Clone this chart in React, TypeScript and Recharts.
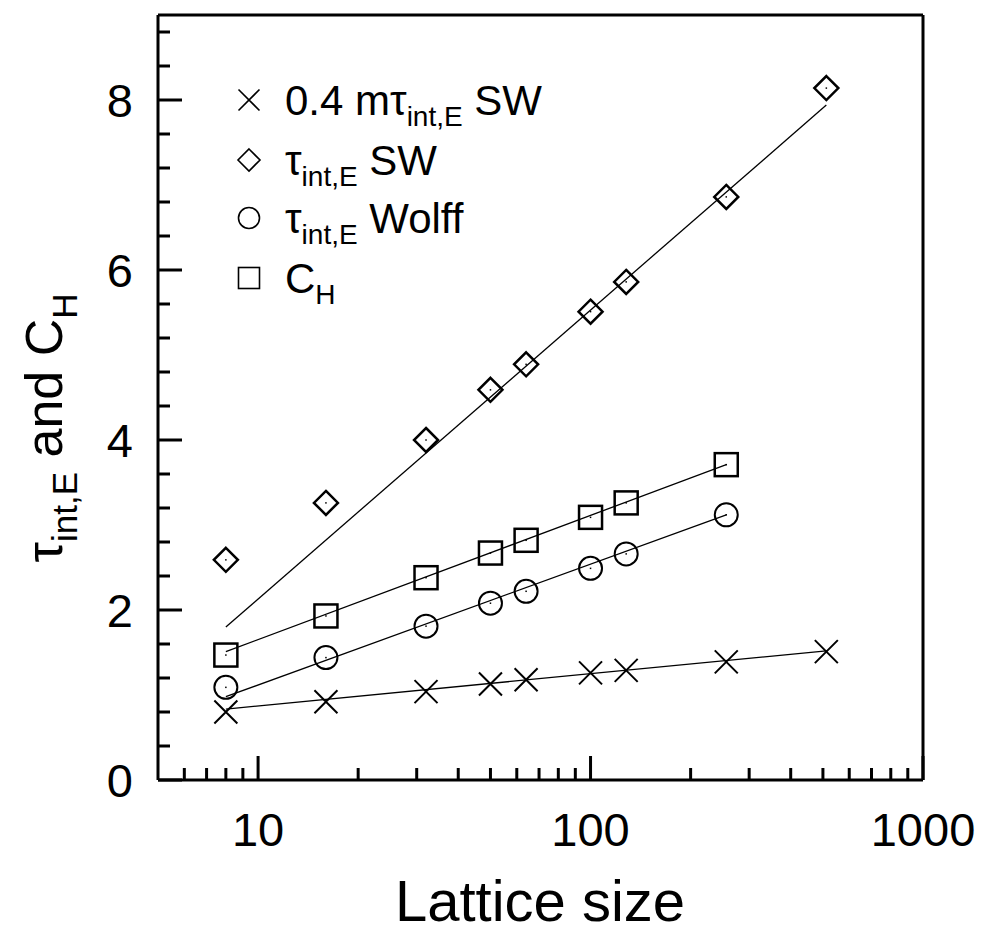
import { ScatterChart, Scatter, XAxis, YAxis } from "recharts"

const FONT = "Liberation Sans, Arial, sans-serif"

// lattice sizes and measured values
const sizes = [8, 16, 32, 50, 64, 100, 128, 256, 512]
const tauSW = [2.59, 3.26, 4.0, 4.59, 4.89, 5.51, 5.86, 6.86, 8.14]
const mTauSW = [0.8, 0.92, 1.04, 1.13, 1.18, 1.26, 1.29, 1.39, 1.51]
const wolffSizes = [8, 16, 32, 50, 64, 100, 128, 256]
const tauWolff = [1.09, 1.44, 1.81, 2.08, 2.22, 2.49, 2.66, 3.12]
const cH = [1.47, 1.93, 2.38, 2.67, 2.82, 3.09, 3.26, 3.71]

// fitted lines (end points)
const fitSizesLong = [8, 512]
const fitSizesShort = [8, 256]
const fitTauSW = [1.8, 7.94]
const fitMTauSW = [0.835, 1.52]
const fitWolff = [0.98, 3.12]
const fitCH = [1.51, 3.71]

const xMajor = [10, 100, 1000]
const xMinor = [6, 7, 8, 9, 20, 30, 40, 50, 60, 70, 80, 90, 200, 300, 400, 500, 600, 700, 800, 900]
const yMajor = [0, 2, 4, 6, 8]
const yMinor = [0.4, 0.8, 1.2, 1.6, 2.4, 2.8, 3.2, 3.6, 4.4, 4.8, 5.2, 5.6, 6.4, 6.8, 7.2, 7.6, 8.4, 8.8]

const xTicks = [...xMinor, ...xMajor].sort((a, b) => a - b)
const yTicks = [...yMinor, ...yMajor].sort((a, b) => a - b)

const pts = (xs: number[], ys: number[]) => xs.map((x, i) => ({ x, y: ys[i] }))

const MAJ = 24
const MIN = 12
const TICK_FONT = 47

function BottomTick({ x, y, payload }: any) {
  const major = xMajor.includes(payload.value)
  return (
    <g>
      <line x1={x} x2={x} y1={y} y2={y - (major ? MAJ : MIN)} stroke="#000" strokeWidth={3} />
      {major && (
        <text x={x} y={y + 66} textAnchor="middle" fontSize={TICK_FONT} fontFamily={FONT} fill="#000">
          {payload.value}
        </text>
      )}
    </g>
  )
}

function TopTick({ x, y, payload }: any) {
  const major = xMajor.includes(payload.value)
  return <line x1={x} x2={x} y1={y} y2={y + (major ? MAJ : MIN)} stroke="#000" strokeWidth={3} />
}

function LeftTick({ x, y, payload }: any) {
  const major = yMajor.includes(payload.value)
  return (
    <g>
      <line x1={x} x2={x + (major ? MAJ : MIN)} y1={y} y2={y} stroke="#000" strokeWidth={3} />
      {major && (
        <text x={x - 25} y={y + 17} textAnchor="end" fontSize={TICK_FONT} fontFamily={FONT} fill="#000">
          {payload.value}
        </text>
      )}
    </g>
  )
}

function RightTick({ x, y, payload }: any) {
  const major = yMajor.includes(payload.value)
  return <line x1={x} x2={x - (major ? MAJ : MIN)} y1={y} y2={y} stroke="#000" strokeWidth={3} />
}

const S = 11.5

const Cross = ({ cx, cy }: any) => (
  <path d={`M${cx - S},${cy - S}L${cx + S},${cy + S}M${cx - S},${cy + S}L${cx + S},${cy - S}`} stroke="#000" strokeWidth={2} fill="none" />
)
const Diamond = ({ cx, cy }: any) => (
  <g>
    <path d={`M${cx},${cy - 12}L${cx + 12},${cy}L${cx},${cy + 12}L${cx - 12},${cy}Z`} stroke="#000" strokeWidth={2.5} fill="none" />
    <rect x={cx - 0.75} y={cy - 0.75} width={1.5} height={1.5} fill="#000" />
  </g>
)
const Circle = ({ cx, cy }: any) => (
  <g>
    <circle cx={cx} cy={cy} r={S} stroke="#000" strokeWidth={2} fill="none" />
    <rect x={cx - 0.75} y={cy - 0.75} width={1.5} height={1.5} fill="#000" />
  </g>
)
const Square = ({ cx, cy }: any) => (
  <g>
    <rect x={cx - S} y={cy - S} width={2 * S} height={2 * S} stroke="#000" strokeWidth={2.5} fill="none" />
    <rect x={cx - 0.75} y={cy - 0.75} width={1.5} height={1.5} fill="#000" />
  </g>
)
const NoShape = () => <g />

function YTitle() {
  return (
    <text transform="translate(62,428) rotate(-90)" textAnchor="middle" fontSize={52} fontFamily={FONT} fill="#000">
      <tspan>τ</tspan>
      <tspan fontSize={35} dy={15}>int,E</tspan>
      <tspan dy={-15}> and C</tspan>
      <tspan fontSize={35} dy={15}>H</tspan>
    </text>
  )
}

function XTitle() {
  return (
    <text x={540} y={921} textAnchor="middle" fontSize={58} fontFamily={FONT} fill="#000">
      Lattice size
    </text>
  )
}

function LegendBox() {
  const tx = 285
  const mx = 249
  const rows = [100, 160, 218, 278]
  const r = 10.5
  return (
    <svg width={986} height={936} style={{ position: "absolute", left: 0, top: 0, pointerEvents: "none" }}>
      <g stroke="#000" strokeWidth={1.6} fill="none">
        <path d={`M${mx - r},${rows[0] - r}L${mx + r},${rows[0] + r}M${mx - r},${rows[0] + r}L${mx + r},${rows[0] - r}`} />
        <path d={`M${mx},${rows[1] - 11}L${mx + 11},${rows[1]}L${mx},${rows[1] + 11}L${mx - 11},${rows[1]}Z`} />
        <circle cx={mx} cy={rows[2]} r={r} />
        <rect x={mx - r} y={rows[3] - r} width={2 * r} height={2 * r} />
      </g>
      <g fontFamily={FONT} fontSize={42} fill="#000">
        <text x={tx} y={rows[0] + 15}>
          <tspan>0.4 mτ</tspan>
          <tspan fontSize={28} dy={11}>int,E</tspan>
          <tspan dy={-11}> SW</tspan>
        </text>
        <text x={tx} y={rows[1] + 15}>
          <tspan>τ</tspan>
          <tspan fontSize={28} dy={11}>int,E</tspan>
          <tspan dy={-11}> SW</tspan>
        </text>
        <text x={tx} y={rows[2] + 15}>
          <tspan>τ</tspan>
          <tspan fontSize={28} dy={11}>int,E</tspan>
          <tspan dy={-11}> Wolff</tspan>
        </text>
        <text x={tx} y={rows[3] + 15}>
          <tspan>C</tspan>
          <tspan fontSize={28} dy={11}>H</tspan>
        </text>
      </g>
    </svg>
  )
}

export default function App() {
  const axisLine = { stroke: "#000", strokeWidth: 3 }
  return (
    <div style={{ position: "absolute", left: 0, top: 0, width: 986, height: 936, background: "#fff" }}>
      <ScatterChart width={986} height={936} margin={{ top: 0, right: 3, bottom: 0, left: 0 }}>
        <XAxis
          dataKey="x"
          type="number"
          scale="log"
          domain={[5, 1000]}
          ticks={xTicks}
          interval={0}
          height={156}
          tickSize={0}
          tickMargin={0}
          tickLine={false}
          axisLine={axisLine}
          tick={<BottomTick />}
          label={{ content: () => <XTitle /> }}
        />
        <XAxis
          xAxisId="top"
          orientation="top"
          type="number"
          scale="log"
          domain={[5, 1000]}
          ticks={xTicks}
          interval={0}
          height={15}
          tickSize={0}
          tickMargin={0}
          tickLine={false}
          axisLine={axisLine}
          tick={<TopTick />}
        />
        <YAxis
          dataKey="y"
          type="number"
          domain={[0, 9]}
          ticks={yTicks}
          interval={0}
          width={158}
          tickSize={0}
          tickMargin={0}
          tickLine={false}
          axisLine={axisLine}
          tick={<LeftTick />}
          label={{ content: () => <YTitle /> }}
        />
        <YAxis
          yAxisId="right"
          orientation="right"
          type="number"
          domain={[0, 9]}
          ticks={yTicks}
          interval={0}
          width={60}
          tickSize={0}
          tickMargin={0}
          tickLine={false}
          axisLine={axisLine}
          tick={<RightTick />}
        />
        <Scatter data={pts(fitSizesLong, fitTauSW)} line={{ stroke: "#000", strokeWidth: 1.3 }} shape={NoShape} isAnimationActive={false} legendType="none" />
        <Scatter data={pts(fitSizesLong, fitMTauSW)} line={{ stroke: "#000", strokeWidth: 1.3 }} shape={NoShape} isAnimationActive={false} legendType="none" />
        <Scatter data={pts(fitSizesShort, fitWolff)} line={{ stroke: "#000", strokeWidth: 1.3 }} shape={NoShape} isAnimationActive={false} legendType="none" />
        <Scatter data={pts(fitSizesShort, fitCH)} line={{ stroke: "#000", strokeWidth: 1.3 }} shape={NoShape} isAnimationActive={false} legendType="none" />
        <Scatter name="0.4 m tau SW" data={pts(sizes, mTauSW)} shape={Cross} isAnimationActive={false} />
        <Scatter name="tau SW" data={pts(sizes, tauSW)} shape={Diamond} isAnimationActive={false} />
        <Scatter name="tau Wolff" data={pts(wolffSizes, tauWolff)} shape={Circle} isAnimationActive={false} />
        <Scatter name="C_H" data={pts(wolffSizes, cH)} shape={Square} isAnimationActive={false} />
      </ScatterChart>
      <LegendBox />
    </div>
  )
}
